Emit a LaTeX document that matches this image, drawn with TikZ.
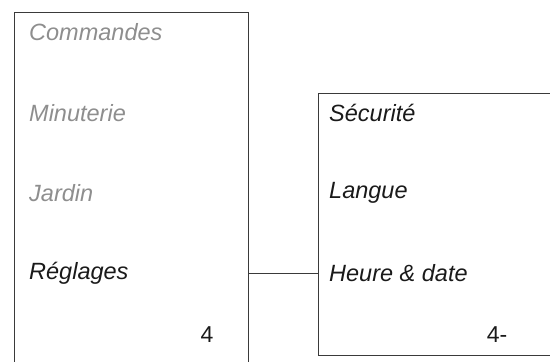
\documentclass[tikz,border=0pt]{standalone}
\usepackage{fontspec}
\setmainfont{Liberation Sans}
\definecolor{dimtext}{HTML}{8E8E8E}
\definecolor{boxline}{HTML}{3A3A3A}
\definecolor{darktext}{HTML}{1A1A1A}
\tikzset{
  menubox/.style={draw=boxline, line width=0.9pt, rectangle, inner sep=0pt},
  item/.style={anchor=west, inner sep=0pt, font=\fontsize{23.5}{28}\selectfont\itshape},
  dimitem/.style={item, text=dimtext},
  activeitem/.style={item, text=darktext},
  pagenum/.style={inner sep=0pt, text=darktext, font=\fontsize{23}{28}\selectfont},
  link/.style={draw=boxline, line width=0.9pt}
}
\begin{document}
\begin{tikzpicture}[x=1pt,y=-1pt]
\useasboundingbox (0,0) rectangle (550,362);
\clip (0,0) rectangle (550,362);
\node[menubox, minimum width=234pt, minimum height=360pt] (leftbox) at (131,192) {};
\node[menubox, minimum width=250pt, minimum height=262pt] (rightbox) at (443,224) {};
\node[dimitem] (commandes) at (29,32) {Commandes};
\node[dimitem] (minuterie) at (29,113) {Minuterie};
\node[dimitem] (jardin) at (29,193) {Jardin};
\node[activeitem] (reglages) at (29,273) {Réglages};
\node[pagenum] (numleft) at (207,335) {4};
\node[activeitem] (securite) at (329,113) {Sécurité};
\node[activeitem] (langue) at (329,193) {Langue};
\node[activeitem] (heure) at (329,273) {Heure \& date};
\node[pagenum] (numright) at (497,335) {4-};
\draw[link] (leftbox.east |- reglages.west) -- (rightbox.west |- heure.west);
\end{tikzpicture}
\end{document}
